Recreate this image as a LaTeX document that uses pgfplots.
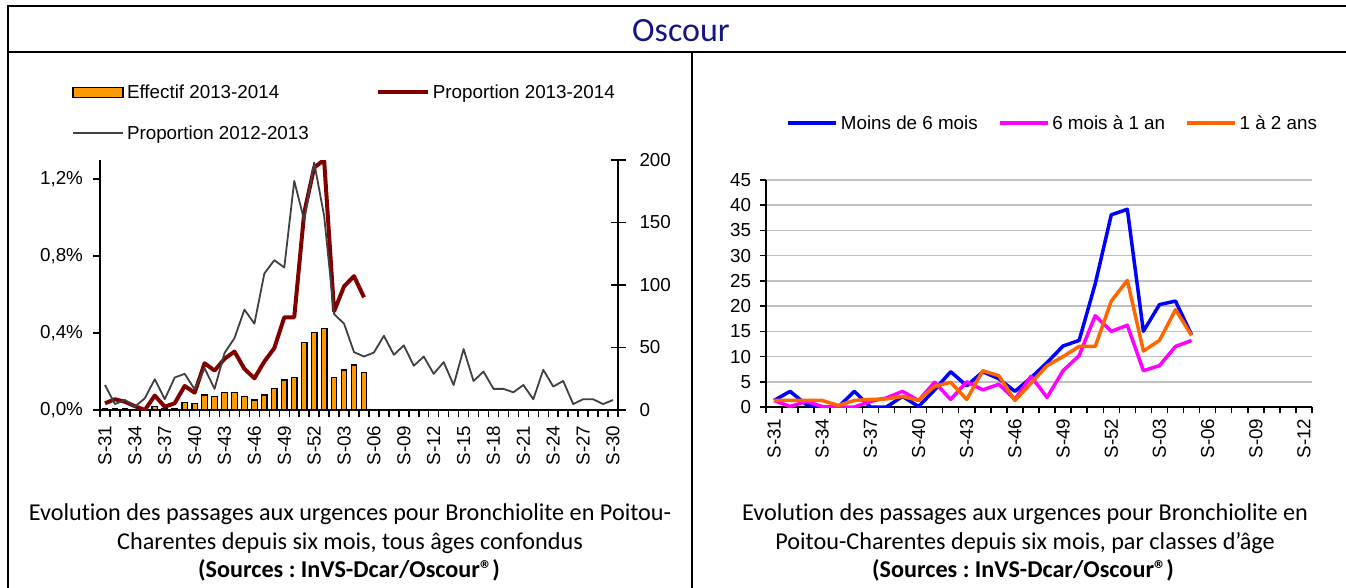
\documentclass[border=0pt]{standalone}
\usepackage{pgfplots}
\pgfplotsset{compat=1.18}
\usepackage{pgfplotstable}
\usepackage{fontspec}
\setmainfont{Liberation Sans}
\newfontfamily\calibri[Ligatures=NoCommon]{Carlito}
\definecolor{barorange}{RGB}{255,153,0}
\definecolor{propred}{RGB}{128,0,0}
\definecolor{propgray}{RGB}{64,64,64}
\definecolor{oscourblue}{RGB}{20,20,130}
\definecolor{cblue}{RGB}{0,0,255}
\definecolor{cmag}{RGB}{255,0,255}
\definecolor{corange}{RGB}{255,102,0}
\definecolor{gridgray}{RGB}{192,192,192}
\newcommand\cf{\fontsize{18.8}{22.5}\selectfont}
\pgfplotsset{/pgf/number format/assume math mode=true}

\pgfplotstableread{
i n
0 1
1 1
2 1
3 0
4 0
5 3
6 1
7 1
8 6
9 5
10 12
11 11
12 14
13 14
14 11
15 8
16 12
17 17
18 24
19 26
20 54
21 62
22 65
23 26
24 32
25 36
26 30
}\effectif

\pgfplotstableread{
i p
0 0.035
1 0.056
2 0.043
3 0.020
4 0.000
5 0.075
6 0.017
7 0.035
8 0.125
9 0.090
10 0.243
11 0.205
12 0.266
13 0.304
14 0.214
15 0.165
16 0.252
17 0.322
18 0.482
19 0.482
20 1.026
21 1.261
22 1.300
23 0.513
24 0.643
25 0.696
26 0.586
}\propA

\pgfplotstableread{
i p
0 0.130
1 0.031
2 0.052
3 0.017
4 0.061
5 0.160
6 0.056
7 0.169
8 0.188
9 0.108
10 0.217
11 0.110
12 0.296
13 0.374
14 0.522
15 0.449
16 0.710
17 0.779
18 0.741
19 1.191
20 0.986
21 1.287
22 1.009
23 0.499
24 0.449
25 0.301
26 0.278
27 0.299
28 0.386
29 0.287
30 0.336
31 0.230
32 0.278
33 0.188
34 0.249
35 0.130
36 0.317
37 0.151
38 0.200
39 0.110
40 0.110
41 0.092
42 0.130
43 0.056
44 0.209
45 0.122
46 0.151
47 0.031
48 0.056
49 0.056
50 0.031
51 0.052
}\propB

\pgfplotstableread{
i blue mag orange
0 1.3 1.3 1.3
1 3.1 0.1 1.3
2 0.5 1.1 1.3
3 0.0 0.1 1.3
4 0.0 0.0 0.3
5 3.1 0.0 1.3
6 0.0 1.1 1.5
7 0.0 1.8 1.6
8 2.1 3.1 2.1
9 0.1 1.3 1.3
10 3.4 4.9 4.1
11 7.0 1.5 4.9
12 4.2 5.0 1.5
13 7.0 3.4 7.2
14 5.6 4.5 6.2
15 3.1 1.5 1.3
16 5.8 6.1 4.7
17 8.8 1.9 8.2
18 12.1 7.2 10.0
19 13.2 10.2 12.0
20 24.4 18.1 12.0
21 38.1 15.0 21.0
22 39.2 16.2 25.1
23 15.0 7.2 11.1
24 20.3 8.2 13.2
25 21.0 12.0 19.3
26 14.3 13.2 14.2
}\ages

\begin{document}
\frenchspacing
\begin{tikzpicture}
\useasboundingbox (0pt,0pt) rectangle (1346pt,-587pt);
% frame
\draw[line width=1.8pt] (7.7pt,-590pt) -- (7.7pt,-5.7pt) -- (1350pt,-5.7pt);
\draw[line width=1.8pt] (7.7pt,-51.7pt) -- (1350pt,-51.7pt);
\draw[line width=1.8pt] (691.7pt,-51.7pt) -- (691.7pt,-590pt);
\node[anchor=base, font=\calibri\fontsize{34}{40}\selectfont, text=oscourblue, inner sep=0pt] at (681pt,-41pt) {Oscour};

% ===== left chart: bars on right axis
\begin{axis}[
  scale only axis, width=518pt, height=250pt,
  at={(100pt,-410pt)}, anchor=south west,
  xmin=-0.5, xmax=51.5, ymin=0, ymax=200,
  axis x line=none, axis y line*=right,
  axis line style={-, black, line width=2pt},
  ytick={0,50,100,150,200},
  tick align=center, major tick length=15pt,
  tick style={black, line width=1.5pt},
  yticklabel style={font=\cf, anchor=west, xshift=10.5pt},
]
\addplot[ybar, bar width=5.5pt, fill=barorange, draw=black, line width=1.3pt] table[x=i, y=n] {\effectif};
\end{axis}

% ===== left chart: proportions
\begin{axis}[
  scale only axis, width=518pt, height=250pt,
  at={(100pt,-410pt)}, anchor=south west,
  xmin=-0.5, xmax=51.5, ymin=0, ymax=1.3,
  axis x line*=bottom, axis y line*=left,
  axis line style={-, black, line width=2pt},
  xtick={0,3,...,51},
  xticklabels={S-31,S-34,S-37,S-40,S-43,S-46,S-49,S-52,S-03,S-06,S-09,S-12,S-15,S-18,S-21,S-24,S-27,S-30},
  minor xtick={-0.5,0.5,...,51.5},
  ytick={0,0.4,0.8,1.2},
  yticklabels={{0,0\%},{0,4\%},{0,8\%},{1,2\%}},
  minor ytick={0,0.4,0.8,1.2},
  major tick length=0pt, minor tick length=7pt, tick align=outside,
  tick style={black, line width=1.5pt},
  xticklabel style={font=\cf, yshift=-12pt, rotate=90, anchor=east},
  yticklabel style={font=\cf, anchor=east, xshift=-13.5pt},
  legend columns=2,
  legend cell align=left,
  legend style={draw=none, fill=none, font=\cf, at={(-0.054,1.31)}, anchor=north west,
    inner sep=0pt, row sep=22pt,
    /tikz/every odd column/.append style={column sep=1pt},
    /tikz/every even column/.append style={column sep=65pt}},
  legend image code/.code={\draw[#1] (0pt,0pt) -- (50pt,0pt);},
]
\addlegendimage{legend image code/.code={\draw[fill=barorange, draw=black, line width=1.3pt] (0pt,-5pt) rectangle (50pt,5pt);}}
\addlegendentry{Effectif 2013-2014}
\addplot[propred, line width=4pt, line join=round] table[x=i, y=p] {\propA};
\addlegendentry{Proportion 2013-2014}
\addplot[propgray, line width=1.8pt, line join=round] table[x=i, y=p] {\propB};
\addlegendentry{Proportion 2012-2013}
\end{axis}

% ===== right chart
\begin{axis}[
  scale only axis, width=546pt, height=227pt,
  at={(766pt,-407pt)}, anchor=south west,
  xmin=-0.5, xmax=33.5, ymin=0, ymax=45,
  axis x line*=bottom, axis y line*=left,
  axis line style={-, black, line width=2pt},
  xtick={0,3,...,33},
  xticklabels={S-31,S-34,S-37,S-40,S-43,S-46,S-49,S-52,S-03,S-06,S-09,S-12},
  minor xtick={-0.5,0.5,...,33.5},
  ytick={0,5,...,45}, minor ytick={0,5,...,45},
  major tick length=0pt, minor tick length=6pt, tick align=outside,
  tick style={black, line width=1.5pt},
  ymajorgrids, major grid style={gridgray, line width=1.5pt},
  xticklabel style={font=\cf, yshift=-8pt, rotate=90, anchor=east},
  yticklabel style={font=\cf, anchor=east, xshift=-11.5pt},
  legend columns=3,
  legend cell align=left,
  legend style={draw=none, fill=none, font=\cf, at={(0.037,1.251)}, anchor=west,
    inner sep=0pt,
    /tikz/every odd column/.append style={column sep=1pt},
    /tikz/every even column/.append style={column sep=18pt}},
  legend image code/.code={\draw[#1] (0pt,0pt) -- (48pt,0pt);},
]
\addplot[cblue, line width=3.5pt, line join=round] table[x=i, y=blue] {\ages};
\addlegendentry{Moins de 6 mois}
\addplot[cmag, line width=3.5pt, line join=round] table[x=i, y=mag] {\ages};
\addlegendentry{6 mois à 1 an}
\addplot[corange, line width=3.5pt, line join=round] table[x=i, y=orange] {\ages};
\addlegendentry{1 à 2 ans}
\end{axis}

% captions
\begin{scope}[every node/.style={anchor=base, inner sep=0pt, font=\calibri\fontsize{24.2}{29}\selectfont}]
\node at (350pt,-520pt) {Evolution des passages aux urgences pour Bronchiolite en Poitou-};
\node at (350pt,-549pt) {Charentes depuis six mois, tous âges confondus};
\node at (349pt,-577pt) {\bfseries (Sources : InVS-Dcar/Oscour®)};
\node at (1025pt,-520pt) {Evolution des passages aux urgences pour Bronchiolite en};
\node at (1025pt,-549pt) {Poitou-Charentes depuis six mois, par classes d’âge};
\node at (1023pt,-577pt) {\bfseries (Sources : InVS-Dcar/Oscour®)};
\end{scope}
\end{tikzpicture}
\end{document}
